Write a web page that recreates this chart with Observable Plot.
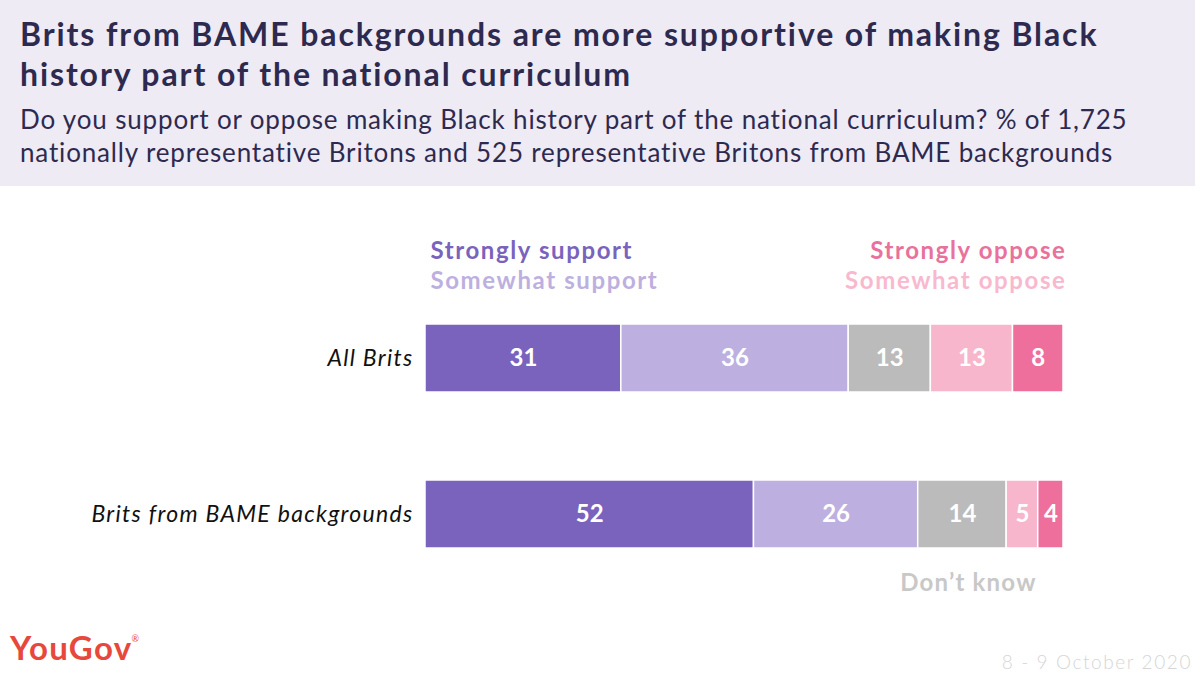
<!DOCTYPE html>
<html>
<head>
<meta charset="utf-8">
<script src="https://cdn.jsdelivr.net/npm/d3@7"></script>
<script src="https://cdn.jsdelivr.net/npm/@observablehq/plot@0.6"></script>
<style>
  html, body { margin: 0; padding: 0; background: #fff; }
  #wrap { position: relative; width: 1200px; height: 681px; overflow: hidden; font-family: Lato, "Open Sans", sans-serif; }
  #header { position: absolute; left: 0; top: 0; width: 1195px; height: 186px; background: #EEEBF5; }
  #title { position: absolute; left: 20px; top: 14px; font-size: 32px; font-weight: 700; line-height: 40px; color: #2E2A4F; white-space: nowrap; }
  #subtitle { position: absolute; left: 20px; top: 103px; font-size: 26px; font-weight: 400; line-height: 33px; color: #2E2A4F; white-space: nowrap; }
  #chart { position: absolute; left: 0; top: 186px; width: 1200px; height: 495px; }
  #logo { position: absolute; left: 10px; top: 627px; font-size: 33px; font-weight: 700; color: #E8473B; letter-spacing: 1.3px; }
  #logo sup { font-size: 9px; font-weight: 400; vertical-align: top; position: relative; top: 6px; left: -1px; letter-spacing: 0; }
  #date { position: absolute; right: 8px; top: 650px; font-size: 19px; font-weight: 300; color: #D6D6D6; letter-spacing: 1.6px; }
</style>
</head>
<body>
<div id="wrap">
  <div id="header">
    <div id="title"><span class="ln">Brits from BAME backgrounds are more supportive of making Black</span><br><span class="ln">history part of the national curriculum</span></div>
    <div id="subtitle"><span class="ln">Do you support or oppose making Black history part of the national curriculum? % of 1,725</span><br><span class="ln">nationally representative Britons and 525 representative Britons from BAME backgrounds</span></div>
  </div>
  <div id="chart"></div>
  <div id="logo">YouGov<sup>®</sup></div>
  <div id="date">8 - 9 October 2020</div>
</div>
<script>
const groups = ["All Brits", "Brits from BAME backgrounds"];
const responses = ["Strongly support", "Somewhat support", "Don't know", "Somewhat oppose", "Strongly oppose"];
const allBritsValues = [31, 36, 13, 13, 8];
const bameValues = [52, 26, 14, 5, 4];
const responseColors = ["#7A63BD", "#BDB0E0", "#BBBBBB", "#F8B6CD", "#EE6F9C"];
const legendColors = ["#7A63BD", "#BDB0E0", "#C8C8C8", "#F8B9CF", "#E8729B"];
const dontKnowLabel = "Don’t know";

const rows = [];
[allBritsValues, bameValues].forEach((vals, gi) => {
  vals.forEach((v, ri) => rows.push({group: groups[gi], response: responses[ri], value: v}));
});
const total = d3.max([allBritsValues, bameValues], v => d3.sum(v));

const font = "Lato, 'Open Sans', sans-serif";

const legendLeft = [responses[0], responses[1]];
const legendRight = [responses[4], responses[3]];
const colorOf = r => legendColors[responses.indexOf(r)];
const legendRow = [-107, -77]; // pixel offsets of the two legend lines above the first bar

const legendMarks = [];
legendLeft.forEach((r, i) => legendMarks.push(
  Plot.text([r], {x: 0, y: () => groups[0], text: d => d, textAnchor: "start", dx: 5, dy: legendRow[i],
    fill: colorOf(r), fontWeight: 700, fontSize: 24})));
legendRight.forEach((r, i) => legendMarks.push(
  Plot.text([r], {x: total, y: () => groups[0], text: d => d, textAnchor: "end", dx: 3, dy: legendRow[i],
    fill: colorOf(r), fontWeight: 700, fontSize: 24})));

const isDontKnowBame = d => d.group === groups[1] && d.response === responses[2];

const chart = Plot.plot({
  width: 1200,
  height: 495,
  marginLeft: 425,
  marginRight: 137,
  marginTop: 48,
  marginBottom: 44,
  style: {fontFamily: font, background: "transparent"},
  x: {domain: [0, total], axis: null},
  y: {domain: groups, padding: 0.567, axis: null},
  color: {domain: responses, range: responseColors},
  marks: [
    Plot.barX(rows, {x: "value", y: "group", fill: "response", stroke: "white", strokeWidth: 1.5}),
    Plot.text(rows, Plot.stackX({x: "value", y: "group", z: "response", text: d => String(d.value),
      fill: "white", fontWeight: 700, fontSize: 24})),
    Plot.text(rows, Plot.stackX({x: "value", y: "group", z: "response",
      text: d => isDontKnowBame(d) ? dontKnowLabel : "", dy: 69, dx: 6,
      fill: legendColors[2], fontWeight: 700, fontSize: 24})),
    Plot.text(groups, {x: 0, y: d => d, text: d => d, textAnchor: "end", dx: -12,
      fontStyle: "italic", fontSize: 23, fill: "#111"}),
    ...legendMarks
  ]
});

document.getElementById("chart").appendChild(chart);

const sel = d3.select(chart);
sel.selectAll('g[font-style="italic"] text').attr("letter-spacing", "1.3px");
sel.selectAll("text").filter(function(){ return responses.includes(this.textContent); }).attr("letter-spacing", "1.6px");
sel.selectAll("text").filter(function(){ return this.textContent === dontKnowLabel; }).attr("letter-spacing", "1.2px");

// fit header lines to reference line widths using letter-spacing
function fit(el, target) {
  const first = el.querySelector(".ln");
  const w = first.getBoundingClientRect().width;
  const n = first.textContent.length;
  el.style.letterSpacing = ((target - w) / n) + "px";
}
fit(document.getElementById("title"), 1079);
fit(document.getElementById("subtitle"), 1108);
</script>
</body>
</html>
